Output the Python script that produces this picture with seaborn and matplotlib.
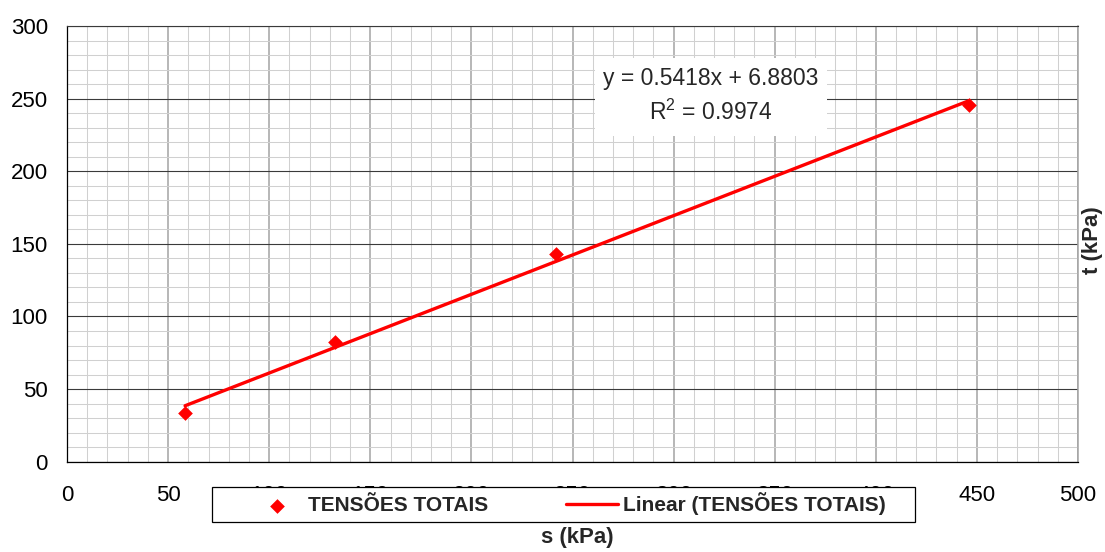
import matplotlib
matplotlib.use("Agg")
import matplotlib.pyplot as plt
from matplotlib.patches import Rectangle
from matplotlib.ticker import MultipleLocator
import numpy as np
import pandas as pd
import seaborn as sns

# Measured stress points (s, t) in kPa
s_vals = [58.4, 132.5, 241.8, 446.2]
t_vals = [33.2, 82.2, 143.1, 245.9]
series_name = "TENSÕES TOTAIS"
trend_name = "Linear (TENSÕES TOTAIS)"

# Linear trendline coefficients
slope = 0.5418
intercept = 6.8803
r_squared = 0.9974

x_ticks = [0, 50, 100, 150, 200, 250, 300, 350, 400, 450, 500]
y_ticks = [0, 50, 100, 150, 200, 250, 300]

sns.set_style("white")
plt.rcParams["font.family"] = ["Liberation Sans", "DejaVu Sans"]
plt.rcParams["mathtext.default"] = "regular"

W, H = 1105, 552
fig = plt.figure(figsize=(W / 100, H / 100), dpi=100)
ax = fig.add_axes([67 / W, 1 - 461.7 / H, 1011 / W, 435.7 / H])

points = pd.DataFrame({"s": s_vals, "t": t_vals})
trend_x = np.array([min(s_vals), max(s_vals)])
trend = pd.DataFrame({"s": trend_x, "t": slope * trend_x + intercept})

red = "#FF0000"
sns.lineplot(data=trend, x="s", y="t", ax=ax, color=red, lw=2.4,
             label=trend_name, zorder=4)
sns.scatterplot(data=points, x="s", y="t", ax=ax, color=red, marker="D",
                s=56, linewidth=0, label=series_name, zorder=5)
if ax.get_legend() is not None:
    ax.get_legend().remove()

ax.set_xlim(0, 500)
ax.set_ylim(0, 300)
ax.set_xticks(x_ticks)
ax.set_yticks(y_ticks)
ax.xaxis.set_minor_locator(MultipleLocator(10))
ax.yaxis.set_minor_locator(MultipleLocator(10))
ax.tick_params(axis="both", which="major", labelsize=16, colors="black",
               direction="out")
ax.tick_params(axis="x", which="major", length=4.7, width=0.8, pad=12)
ax.tick_params(axis="y", which="major", length=5.8, width=0.8, pad=8)
ax.tick_params(which="minor", length=0)

# Grid: light minor lines, grey vertical majors, dark horizontal majors
ax.set_axisbelow(True)
ax.grid(which="minor", axis="both", color="#D0D0D0", lw=0.75)
ax.grid(which="major", axis="x", color="#A3A3A3", lw=1.1)
ax.grid(which="major", axis="y", color="#3A3A3A", lw=0.8)

for side in ["left", "bottom"]:
    ax.spines[side].set_color("black")
    ax.spines[side].set_linewidth(0.9)
ax.spines["top"].set_color("#3A3A3A")
ax.spines["top"].set_linewidth(0.8)
ax.spines["right"].set_color("#A3A3A3")
ax.spines["right"].set_linewidth(1.1)

ax.set_xlabel("s (kPa)", fontsize=16, fontweight="bold")
ax.xaxis.set_label_coords(0.5045, -0.175)
ax.xaxis.label.set_va("center")
ax.yaxis.set_label_position("right")
ax.set_ylabel("t (kPa)", fontsize=16, fontweight="bold", rotation=90)
ax.yaxis.set_label_coords(1.0148, 0.509)
ax.yaxis.label.set_va("center")

# Trendline equation box
ax.add_patch(Rectangle((0.522, 0.7475), 0.230, 0.179, transform=ax.transAxes,
                       facecolor="white", edgecolor="none", zorder=3))
ax.text(0.637, 0.880, f"y = {slope:.4f}x + {intercept:.4f}",
        transform=ax.transAxes, ha="center", va="center", fontsize=16.5,
        zorder=6)
ax.text(0.637, 0.803, f"R$^{{2}}$ = {r_squared:.4f}",
        transform=ax.transAxes, ha="center", va="center", fontsize=16.5,
        zorder=6)

# Legend box below the plot, over the tick labels
fig.patches.append(Rectangle((212 / W, 1 - 522 / H), 703 / W, 35 / H,
                             transform=fig.transFigure, facecolor="white",
                             edgecolor="black", lw=0.9, zorder=10))
handles, labels = ax.get_legend_handles_labels()
order = [labels.index(series_name), labels.index(trend_name)]
leg = fig.legend([handles[i] for i in order], [labels[i] for i in order],
                 loc="center left", bbox_to_anchor=(251 / W, 1 - 504 / H),
                 ncol=2, frameon=False, borderpad=0, borderaxespad=0,
                 handlelength=2.5, handletextpad=0.25, columnspacing=3.7,
                 scatterpoints=1, prop={"weight": "bold", "size": 15})
leg.set_zorder(11)

fig.savefig("out.png", dpi=100, facecolor="white")
